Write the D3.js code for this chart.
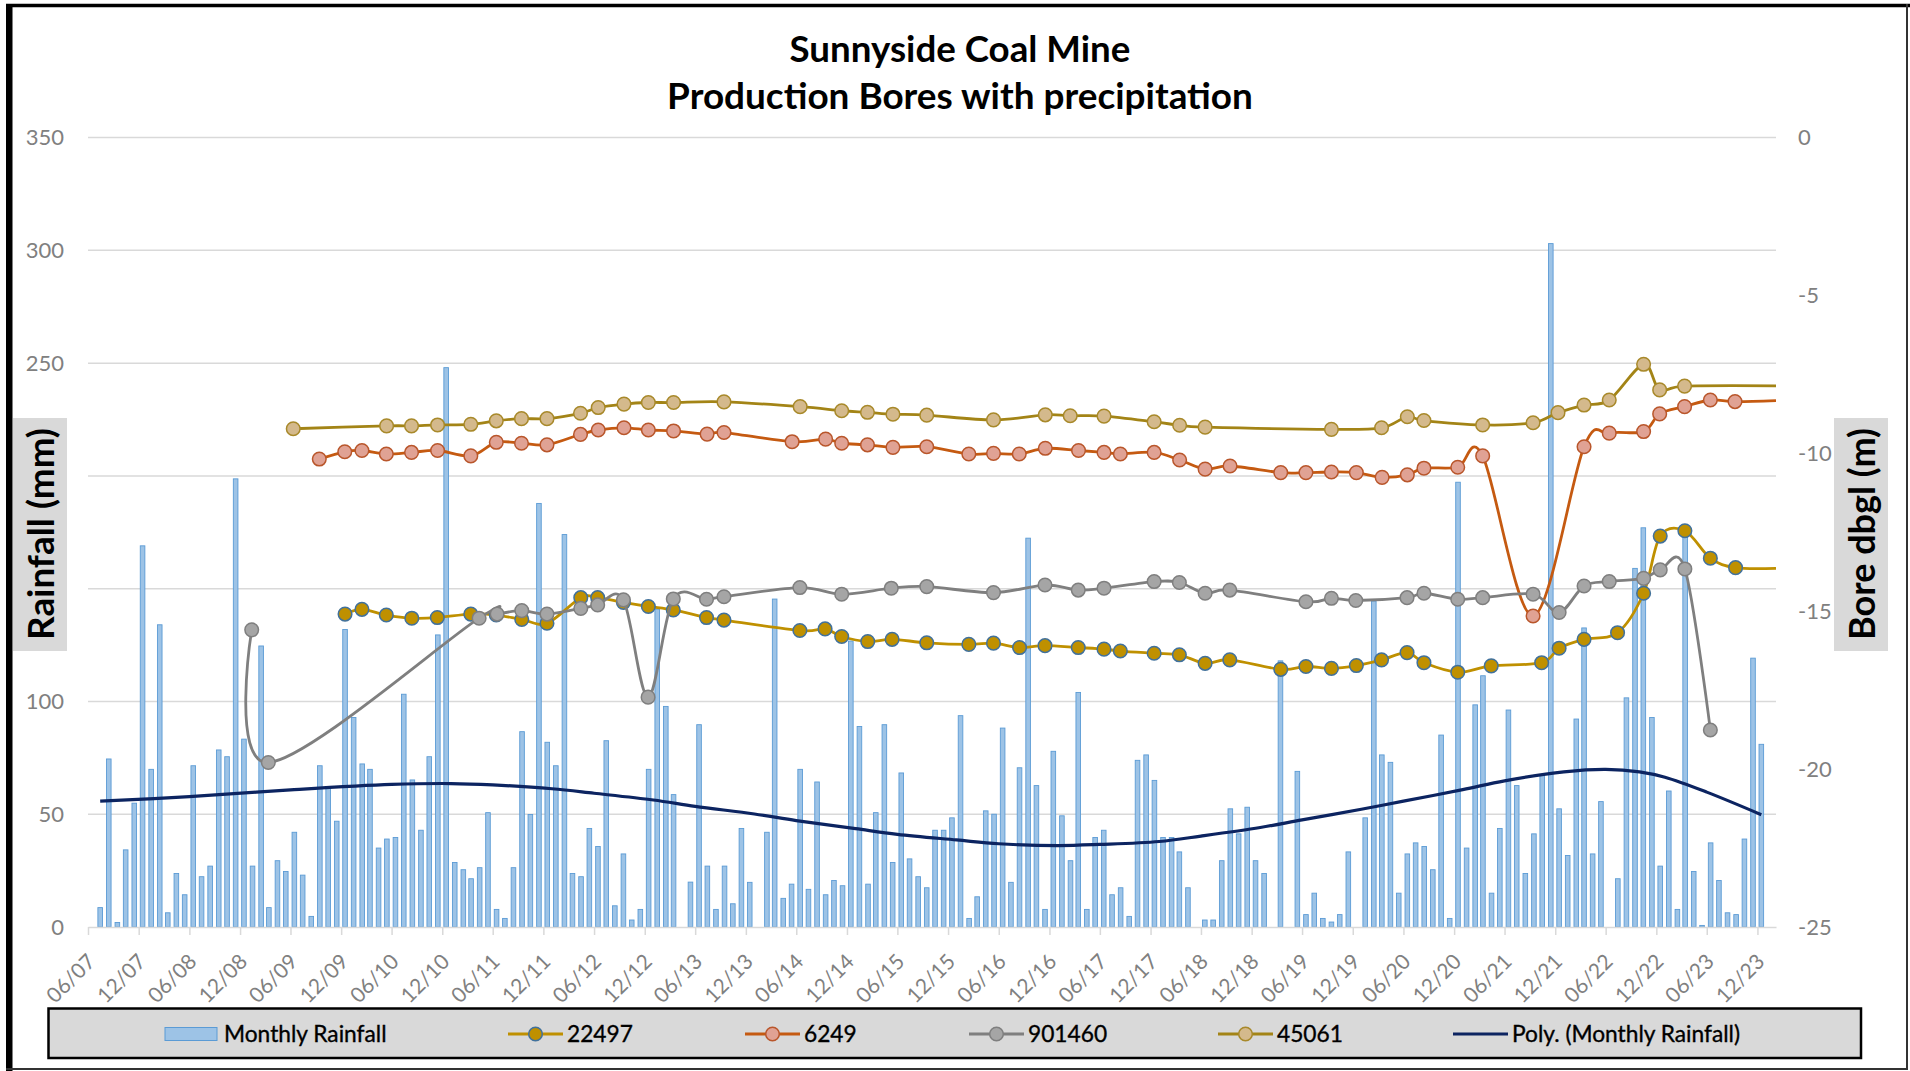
<!DOCTYPE html>
<html>
<head>
<meta charset="utf-8">
<script src="https://cdn.jsdelivr.net/npm/d3@7"></script>
<style>
  html, body { margin: 0; padding: 0; background: #fff; }
  svg { display: block; font-family: Lato, "Open Sans", sans-serif; }
</style>
</head>
<body>
<svg id="chart" width="1910" height="1071"></svg>
<script>
// monthly rainfall in mm, one value per month from Jul 2007 to Dec 2023
const rainStart = "2007-07-15";
const monthlyRainfall = [
  8.6, 74.5, 2, 34.2, 54.9, 169,
  69.9, 134, 6.3, 23.7, 14.3, 71.5, 22.3, 27, 78.5, 75.5, 198.7, 83.3,
  27, 124.6, 8.6, 29.4, 24.6, 42, 23, 4.7, 71.5, 61.7, 46.9, 131.9,
  92.9, 72.3, 69.9, 35, 39, 39.7, 103.2, 65.2, 42.9, 75.5, 129.5, 248,
  28.6, 25.4, 21.4, 26.3, 50.7, 7.8, 3.8, 26.3, 86.6, 49.9, 187.8, 81.9,
  71.5, 174, 23.7, 22.3, 43.7, 35.7, 82.6, 9.4, 32.4, 3.1, 7.8, 69.9,
  140.9, 97.8, 58.7, 0, 19.9, 89.7, 27, 7.8, 27, 10.3, 43.7, 19.8,
  0, 42, 145.4, 12.7, 19, 69.9, 16.7, 64.3, 14.3, 20.6, 18.3, 126.8,
  88.9, 19, 50.7, 89.7, 28.6, 68.3, 30.2, 22.3, 17.4, 42.9, 42.9, 48.4,
  93.7, 3.8, 13.4, 51.5, 50, 88.2, 19.8, 70.6, 172.4, 62.7, 7.8, 77.9,
  49.3, 29.4, 104, 7.8, 39.7, 42.9, 14.3, 17.4, 4.7, 73.9, 76.3, 65,
  39.7, 39.7, 33.3, 17.4, 0, 3.1, 3.1, 29.4, 52.4, 41.3, 53.1, 29.4,
  23.7, 0, 118, 0, 69, 5.5, 15, 3.8, 2.2, 5.5, 33.3, 0,
  48.4, 144.5, 76.3, 73, 15, 32.4, 37.3, 35.7, 25.4, 85.1, 3.8, 197.2,
  35, 98.5, 111.4, 15, 43.7, 96.2, 62.7, 23.7, 41.3, 67.4, 303, 52.4,
  31.7, 92.2, 132.6, 32.4, 55.6, 0, 21.4, 101.6, 159, 177, 92.9, 27,
  60.3, 7.8, 175, 24.6, 0.7, 37.3, 20.6, 6.3, 5.5, 39, 119.2, 81
];

// polynomial trend of the rainfall
const trendDates = ["2007-07-15","2008-06-01","2009-06-01","2010-06-01","2011-01-01","2011-06-01",
  "2012-01-01","2012-06-01","2013-01-01","2013-06-01","2014-01-01","2014-06-01","2015-01-01",
  "2015-06-01","2016-01-01","2016-06-01","2017-01-01","2017-06-01","2018-01-01","2018-06-01",
  "2019-01-01","2019-06-01","2020-01-01","2020-06-01","2021-01-01","2021-06-01","2022-01-01",
  "2022-06-01","2022-10-01","2023-01-01","2023-06-01","2023-12-15"];
const trendMm = [55.8, 57.8, 60.8, 63.2, 63.6, 63.0, 61.3, 59.3, 56.3, 53.5, 50.1, 47.2, 43.6,
  41.1, 38.6, 36.9, 36.1, 36.6, 37.9, 40.3, 44.1, 47.5, 52.2, 55.8, 60.9, 64.8, 68.8,
  69.9, 68.8, 66.4, 59.8, 49.8];

// bore water levels, m below ground
const bore22497Dates = ["2009-12-15","2010-02-14","2010-05-13","2010-08-13","2010-11-13","2011-03-14",
  "2011-06-14","2011-09-14","2011-12-14","2012-04-14","2012-06-14","2012-09-15","2012-12-14",
  "2013-03-14","2013-07-12","2013-09-13","2014-06-14","2014-09-13","2014-11-12","2015-02-14",
  "2015-05-13","2015-09-15","2016-02-14","2016-05-13","2016-08-15","2016-11-15","2017-03-15",
  "2017-06-16","2017-08-14","2017-12-14","2018-03-15","2018-06-16","2018-09-13","2019-03-16",
  "2019-06-15","2019-09-15","2019-12-14","2020-03-14","2020-06-14","2020-08-14","2020-12-14",
  "2021-04-14","2021-10-13","2021-12-15","2022-03-15","2022-07-14","2022-10-16","2022-12-15",
  "2023-03-14","2023-06-14","2023-09-13"];
const bore22497Depth = [-15.09, -14.94, -15.12, -15.22, -15.20, -15.09, -15.12, -15.26, -15.38,
  -14.57, -14.57, -14.72, -14.85, -14.96, -15.20, -15.28, -15.61, -15.56, -15.80, -15.96,
  -15.89, -16.00, -16.05, -16.01, -16.15, -16.09, -16.15, -16.20, -16.26, -16.33, -16.38,
  -16.65, -16.54, -16.84, -16.75, -16.81, -16.72, -16.54, -16.31, -16.63, -16.93, -16.73,
  -16.63, -16.17, -15.89, -15.68, -14.43, -12.62, -12.45, -13.32, -13.62];

const bore6249Dates = ["2009-09-13","2009-12-14","2010-02-14","2010-05-13","2010-08-12","2010-11-14",
  "2011-03-14","2011-06-14","2011-09-13","2011-12-14","2012-04-13","2012-06-16","2012-09-17",
  "2012-12-14","2013-03-15","2013-07-14","2013-09-13","2014-05-17","2014-09-15","2014-11-12",
  "2015-02-13","2015-05-16","2015-09-15","2016-02-14","2016-05-13","2016-08-14","2016-11-16",
  "2017-03-16","2017-06-16","2017-08-14","2017-12-14","2018-03-16","2018-06-16","2018-09-14",
  "2019-03-16","2019-06-15","2019-09-15","2019-12-14","2020-03-16","2020-06-15","2020-08-14",
  "2020-12-14","2021-03-14","2021-09-12","2022-03-15","2022-06-14","2022-10-16","2022-12-13",
  "2023-03-13","2023-06-14","2023-09-11"];
const bore6249Depth = [-10.18, -9.95, -9.91, -10.02, -9.97, -9.91, -10.08, -9.65, -9.68, -9.73,
  -9.40, -9.26, -9.19, -9.26, -9.29, -9.39, -9.34, -9.63, -9.55, -9.68,
  -9.73, -9.81, -9.79, -10.02, -10.00, -10.02, -9.84, -9.91, -9.97, -10.02,
  -9.97, -10.21, -10.50, -10.40, -10.61, -10.61, -10.59, -10.61, -10.76, -10.68,
  -10.47, -10.44, -10.08, -15.15, -9.79, -9.36, -9.31, -8.75, -8.52, -8.31, -8.36];

const bore901460Dates = ["2009-01-12","2009-03-13","2011-04-13","2011-06-17","2011-09-14","2011-12-14",
  "2012-04-14","2012-06-14","2012-09-15","2012-12-13","2013-03-14","2013-07-12","2013-09-13",
  "2014-06-14","2014-11-12","2015-05-10","2015-09-15","2016-05-13","2016-11-15","2017-03-15",
  "2017-06-16","2017-12-14","2018-03-15","2018-06-16","2018-09-13","2019-06-15","2019-09-15",
  "2019-12-12","2020-06-14","2020-08-14","2020-12-14","2021-03-14","2021-09-12","2021-12-15",
  "2022-03-15","2022-06-14","2022-10-16","2022-12-15","2023-03-14","2023-06-14"];
const bore901460Depth = [-15.59, -19.79, -15.22, -15.09, -14.98, -15.09, -14.91, -14.80, -14.64, -17.72,
  -14.61, -14.62, -14.54, -14.25, -14.46, -14.27, -14.22, -14.41, -14.17, -14.33,
  -14.27, -14.06, -14.09, -14.43, -14.33, -14.70, -14.59, -14.66, -14.57, -14.43,
  -14.62, -14.57, -14.46, -15.04, -14.20, -14.06, -13.96, -13.69, -13.66, -18.76];

const bore45061Dates = ["2009-06-11","2010-05-14","2010-08-12","2010-11-14","2011-03-14","2011-06-14",
  "2011-09-13","2011-12-14","2012-04-13","2012-06-16","2012-09-17","2012-12-14","2013-03-15",
  "2013-09-13","2014-06-15","2014-11-12","2015-02-13","2015-05-16","2015-09-15","2016-05-13",
  "2016-11-16","2017-02-14","2017-06-16","2017-12-14","2018-03-16","2018-06-16","2019-09-15",
  "2020-03-14","2020-06-15","2020-08-14","2021-03-14","2021-09-12","2021-12-11","2022-03-15",
  "2022-06-14","2022-10-16","2022-12-13","2023-03-13"];
const bore45061Depth = [-9.22, -9.13, -9.13, -9.10, -9.08, -8.97, -8.90, -8.90, -8.73, -8.55,
  -8.44, -8.39, -8.39, -8.37, -8.52, -8.65, -8.70, -8.76, -8.79, -8.94,
  -8.78, -8.81, -8.82, -9.00, -9.11, -9.17, -9.24, -9.19, -8.84, -8.96,
  -9.10, -9.03, -8.71, -8.47, -8.31, -7.18, -7.99, -7.87];

// three of the lines run on to the edge of the plot without a marker
const tailDate = "2024-02-06";
const tail22497 = -13.64, tail6249 = -8.33, tail45061 = -7.86;

const rainTicks = [0, 50, 100, 150, 200, 250, 300, 350];
const boreTicks = [0, -5, -10, -15, -20, -25];

const parse = d3.timeParse("%Y-%m-%d");
const svg = d3.select("#chart");

svg.append("rect").attr("width", 1910).attr("height", 1071).attr("fill", "#fff");

const x = d3.scaleTime()
  .domain([parse("2007-06-01"), parse(tailDate)])
  .range([88, 1776]);
const yRain = d3.scaleLinear().domain([0, 350]).range([927, 137.6]);
const yBore = d3.scaleLinear().domain([-25, 0]).range([927, 137.6]);

// gridlines
svg.append("g").selectAll("line")
  .data(rainTicks.slice(1))
  .join("line")
  .attr("x1", x.range()[0]).attr("x2", x.range()[1])
  .attr("y1", d => yRain(d)).attr("y2", d => yRain(d))
  .attr("stroke", "#d9d9d9").attr("stroke-width", 1.5);

// rainfall bars
const rain = monthlyRainfall.map((mm, i) => ({ date: d3.timeMonth.offset(parse(rainStart), i), mm }));
svg.append("g").selectAll("rect")
  .data(rain.filter(d => d.mm > 0))
  .join("rect")
  .attr("x", d => x(d.date) - 2.3)
  .attr("width", 4.6)
  .attr("y", d => yRain(d.mm))
  .attr("height", d => yRain(0) - yRain(d.mm))
  .attr("fill", "#9dc3e6")
  .attr("stroke", "#5b9bd5")
  .attr("stroke-width", 0.9);

// x axis
const xTicks = d3.timeMonth.range(parse("2007-06-01"), parse("2024-01-01"), 6);
const xAxis = svg.append("g")
  .attr("transform", "translate(0,927)")
  .call(d3.axisBottom(x).tickValues(xTicks).tickFormat(d3.timeFormat("%m/%y")).tickSize(8).tickSizeOuter(0));
xAxis.attr("font-family", null).attr("font-size", 21);
xAxis.select(".domain").attr("stroke", "#d9d9d9").attr("stroke-width", 1.5);
xAxis.selectAll(".tick line").attr("stroke", "#d9d9d9").attr("stroke-width", 1.5);
xAxis.selectAll(".tick text")
  .attr("fill", "#808080")
  .attr("x", 0).attr("y", 0).attr("dy", null)
  .attr("text-anchor", "end")
  .attr("transform", "translate(8,36) rotate(-45)");

// left axis labels
const yLeft = svg.append("g")
  .attr("transform", "translate(64,0)")
  .call(d3.axisLeft(yRain).tickValues(rainTicks).tickSize(0).tickPadding(0));
yLeft.attr("font-family", null).attr("font-size", 22);
yLeft.select(".domain").remove();
yLeft.selectAll(".tick text").attr("fill", "#808080");

// right axis labels
const yRight = svg.append("g")
  .attr("transform", "translate(1798,0)")
  .call(d3.axisRight(yBore).tickValues(boreTicks).tickFormat(d => String(d)).tickSize(0).tickPadding(0));
yRight.attr("font-family", null).attr("font-size", 22);
yRight.select(".domain").remove();
yRight.selectAll(".tick text").attr("fill", "#808080");

// trend line
const trend = trendDates.map((d, i) => ({ date: parse(d), mm: trendMm[i] }));
svg.append("path")
  .datum(trend)
  .attr("fill", "none")
  .attr("stroke", "#0c2461")
  .attr("stroke-width", 3.2)
  .attr("d", d3.line().x(d => x(d.date)).y(d => yRain(d.mm)).curve(d3.curveCatmullRom));

// bore series, drawn in the workbook's order
const bores = [
  { name: "22497", dates: bore22497Dates, depth: bore22497Depth, tail: tail22497,
    line: "#bf9000", fill: "#bf9000", edge: "#41719c" },
  { name: "6249", dates: bore6249Dates, depth: bore6249Depth, tail: tail6249,
    line: "#c55a11", fill: "#e0a294", edge: "#b9562b" },
  { name: "901460", dates: bore901460Dates, depth: bore901460Depth, tail: null,
    line: "#7f7f7f", fill: "#a5a5a5", edge: "#7f7f7f" },
  { name: "45061", dates: bore45061Dates, depth: bore45061Depth, tail: tail45061,
    line: "#a38416", fill: "#d4b98c", edge: "#a8892a" }
];

const boreLine = d3.line()
  .x(d => x(d.date))
  .y(d => yBore(d.v))
  .curve(d3.curveCardinal.tension(0));

bores.forEach(b => {
  const pts = b.dates.map((d, i) => ({ date: parse(d), v: b.depth[i] }));
  const linePts = b.tail === null ? pts : pts.concat([{ date: parse(tailDate), v: b.tail }]);
  const g = svg.append("g");
  g.append("path")
    .datum(linePts)
    .attr("fill", "none")
    .attr("stroke", b.line)
    .attr("stroke-width", 2.8)
    .attr("d", boreLine);
  g.selectAll("circle")
    .data(pts)
    .join("circle")
    .attr("cx", d => x(d.date))
    .attr("cy", d => yBore(d.v))
    .attr("r", 6.8)
    .attr("fill", b.fill)
    .attr("stroke", b.edge)
    .attr("stroke-width", 1.5);
});

function fit(sel, target) {
  const w = sel.node().getComputedTextLength();
  sel.attr("font-size", +sel.attr("font-size") * target / w);
}

// title
const t1 = svg.append("text").text("Sunnyside Coal Mine")
  .attr("x", 960).attr("y", 62).attr("text-anchor", "middle")
  .attr("font-weight", 700).attr("font-size", 34).attr("fill", "#000");
fit(t1, 341);
const t2 = svg.append("text").text("Production Bores with precipitation")
  .attr("x", 960).attr("y", 108.5).attr("text-anchor", "middle")
  .attr("font-weight", 700).attr("font-size", 34).attr("fill", "#000");
fit(t2, 586);

// axis titles on grey boxes
[{ label: "Rainfall (mm)", bx: 13, cx: 39.5 }, { label: "Bore dbgl (m)", bx: 1834, cx: 1861 }].forEach(a => {
  svg.append("rect").attr("x", a.bx).attr("y", 418).attr("width", 54).attr("height", 233).attr("fill", "#d9d9d9");
  const t = svg.append("text").text(a.label)
    .attr("transform", `translate(${a.cx},534) rotate(-90)`)
    .attr("text-anchor", "middle").attr("dominant-baseline", "central")
    .attr("font-weight", 700).attr("font-size", 29).attr("fill", "#000");
  fit(t, 212);
});

// legend
svg.append("rect").attr("x", 48.5).attr("y", 1008.5).attr("width", 1812.5).attr("height", 49.5)
  .attr("fill", "#d9d9d9").attr("stroke", "#000").attr("stroke-width", 2.5);

const legendX = [165, 508, 745, 969, 1218, 1453];
const legendY = 1034;
const leg = svg.append("g");
leg.append("rect").attr("x", legendX[0]).attr("y", legendY - 6.5).attr("width", 52).attr("height", 13)
  .attr("fill", "#9dc3e6").attr("stroke", "#5b9bd5").attr("stroke-width", 1);
bores.forEach((b, i) => {
  const lx = legendX[i + 1];
  leg.append("line").attr("x1", lx).attr("x2", lx + 55).attr("y1", legendY).attr("y2", legendY)
    .attr("stroke", b.line).attr("stroke-width", 2.8);
  leg.append("circle").attr("cx", lx + 27.5).attr("cy", legendY).attr("r", 6.8)
    .attr("fill", b.fill).attr("stroke", b.edge).attr("stroke-width", 1.5);
});
leg.append("line").attr("x1", legendX[5]).attr("x2", legendX[5] + 55).attr("y1", legendY).attr("y2", legendY)
  .attr("stroke", "#0c2461").attr("stroke-width", 3.2);

const legendLabels = ["Monthly Rainfall"].concat(bores.map(b => b.name), ["Poly. (Monthly Rainfall)"]);
const legendWidths = [168.5, 61.5, 49, 74.4, 60, 241];
const legTexts = legendLabels.map((s, i) => leg.append("text").text(s)
  .attr("x", legendX[i] + 59).attr("y", 1041.5)
  .attr("font-size", 23).attr("fill", "#000")
  .attr("stroke", "#000").attr("stroke-width", 0.35));
const measured = d3.sum(legTexts, t => t.node().getComputedTextLength());
const legSize = 23 * d3.sum(legendWidths) / measured;
legTexts.forEach(t => t.attr("font-size", legSize));

// outer frame
svg.append("line").attr("x1", 6).attr("x2", 1910).attr("y1", 5.5).attr("y2", 5.5).attr("stroke", "#000").attr("stroke-width", 3.5);
svg.append("line").attr("x1", 9.25).attr("x2", 9.25).attr("y1", 4).attr("y2", 1071).attr("stroke", "#000").attr("stroke-width", 6.5);
svg.append("line").attr("x1", 1907).attr("x2", 1907).attr("y1", 4).attr("y2", 1069).attr("stroke", "#333").attr("stroke-width", 2);
svg.append("line").attr("x1", 6).attr("x2", 1908).attr("y1", 1069).attr("y2", 1069).attr("stroke", "#333").attr("stroke-width", 2);
</script>
</body>
</html>
